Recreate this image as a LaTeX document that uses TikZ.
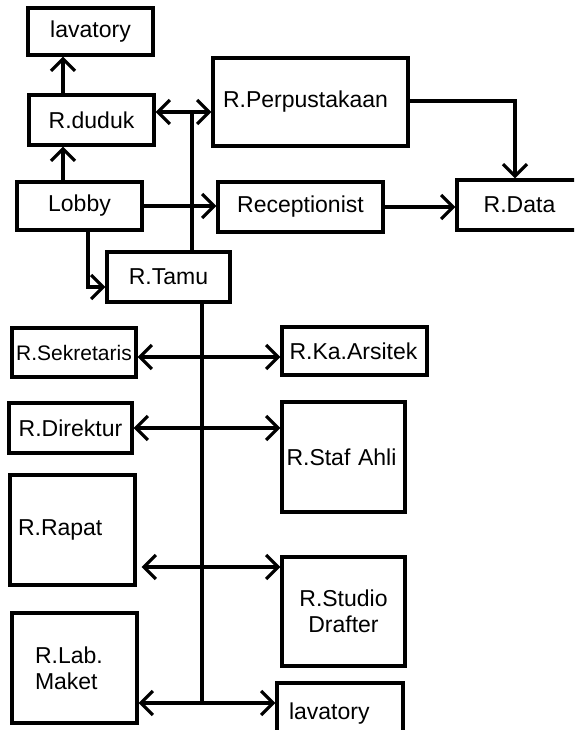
\documentclass[tikz,border=0pt]{standalone}
\usepackage{fontspec}
\setmainfont{Liberation Sans}
\usetikzlibrary{arrows.meta}

\begin{document}
\begin{tikzpicture}[x=1pt,y=-1pt]
\tikzstyle{every node}+=[inner sep=0pt, font=\fontsize{23}{26}\selectfont]
\tikzstyle{room}=[draw=black, line width=3.2pt, align=center]
\tikzstyle{wire}=[black, line width=3.2pt]
\tikzstyle{arr}=[wire, -{Straight Barb[length=12pt,width=24pt]}]
\tikzstyle{darr}=[wire, {Straight Barb[length=12pt,width=24pt]}-{Straight Barb[length=12pt,width=24pt]}]
\clip (0,0) rectangle (574,730);
\node [room, minimum width=125pt, minimum height=47pt] (lav1) at (90.5,31.5) {lavatory};
\node [room, minimum width=125pt, minimum height=50pt] (duduk) at (91.5,120) {R.duduk};
\node [room, minimum width=125pt, minimum height=48pt] (lobby) at (79.5,206) {Lobby};
\node [room, minimum width=123pt, minimum height=50pt] (tamu) at (168.5,277) {R.Tamu};
\node [room, minimum width=195pt, minimum height=88pt, text width=175pt, align=left] (perpus) at (310.5,102) {R.Perpustakaan};
\node [room, minimum width=165pt, minimum height=50pt] (recep) at (300.5,207) {Receptionist};
\node [room, minimum width=125pt, minimum height=50pt] (data) at (519.5,205) {R.Data};
\node [room, minimum width=124pt, minimum height=49pt, font=\fontsize{21}{25}\selectfont] (sek) at (74,352.5) {R.Sekretaris};
\node [room, minimum width=145pt, minimum height=48pt, text width=130pt, align=left] (arsitek) at (354.5,351) {R.Ka.Arsitek};
\node [room, minimum width=123pt, minimum height=50pt] (direktur) at (70.5,428) {R.Direktur};
\node [room, minimum width=123pt, minimum height=110pt, text width=114pt, align=left] (staf) at (343.5,457) {R.Staf Ahli};
\node [room, minimum width=125pt, minimum height=110pt, text width=109pt, align=left] (rapat) at (72.5,530) {R.Rapat};
\node [room, minimum width=123pt, minimum height=109pt] (studio) at (343.5,611.5) {R.Studio\\Drafter};
\node [room, minimum width=125pt, minimum height=110pt, text width=79pt, align=left] (maket) at (74.5,668) {R.Lab.\\Maket};
\node [room, minimum width=126pt, minimum height=62pt, text width=102pt, align=left] (lav2) at (340,714) {lavatory};
\coordinate (dd) at ([yshift=8pt]duduk.east);
\coordinate (t1) at ([xshift=23.5pt]tamu.north);
\coordinate (t2) at ([xshift=33.5pt]tamu.south);
\coordinate (a1) at ([yshift=-4.5pt]sek.east);
\coordinate (a3) at ([shift={(5pt,-37pt)}]rapat.east);
\coordinate (a4) at ([yshift=-35pt]maket.east);
\draw [arr] ([xshift=-28.5pt]duduk.north) -- ([xshift=-27.5pt]lav1.south);
\draw [arr] ([xshift=-16.5pt]lobby.north) -- ([xshift=-28.5pt]duduk.south);
\draw [arr] (lobby.east) -- (lobby.east -| recep.west);
\draw [arr] ([xshift=8.5pt]lobby.south) |- ([yshift=-10pt]tamu.west);
\draw [darr] (dd) -- (dd -| perpus.west);
\draw [wire] (t1) -- (t1 |- dd);
\draw [arr] (recep.east) -- (recep.east -| data.west);
\draw [arr] ([yshift=1pt]perpus.east) -| ([xshift=-4.5pt]data.north);
\draw [wire] (t2) -- (t2 |- a4);
\draw [darr] (a1) -- (a1 -| arsitek.west);
\draw [darr] (direktur.east) -- (direktur.east -| staf.west);
\draw [darr] (a3) -- (a3 -| studio.west);
\draw [darr] (a4) -- (a4 -| lav2.west);
\end{tikzpicture}
\end{document}
